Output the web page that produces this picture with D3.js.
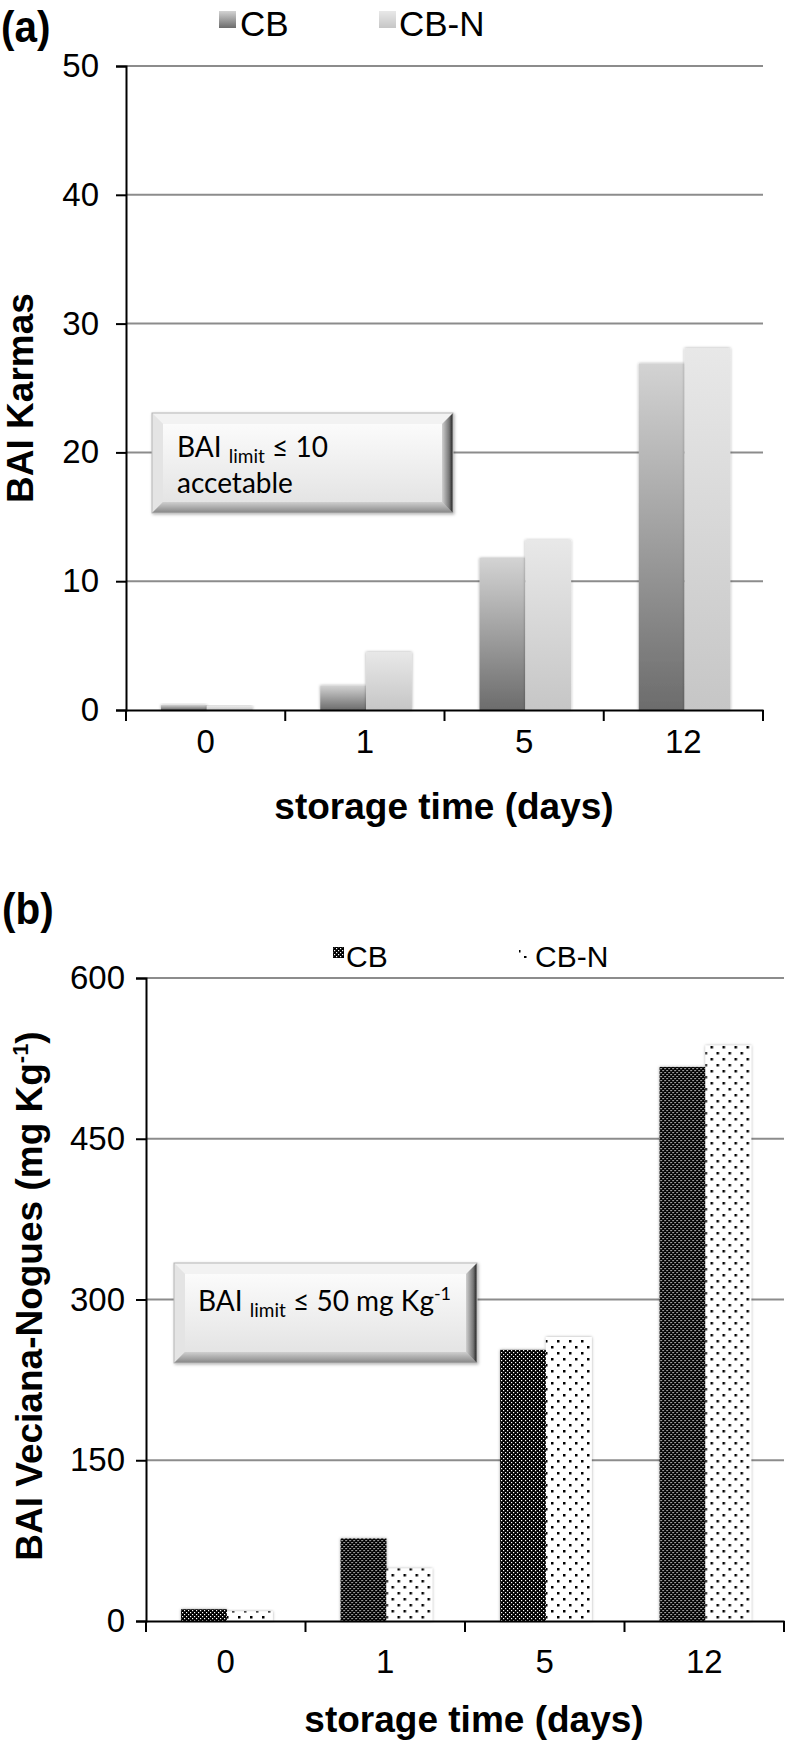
<!DOCTYPE html>
<html>
<head>
<meta charset="utf-8">
<script src="https://cdn.jsdelivr.net/npm/d3@7"></script>
<style>
  html, body { margin: 0; padding: 0; background: #fff; }
  svg { display: block; }
  text { font-family: "Liberation Sans", Arial, sans-serif; fill: #000; }
</style>
</head>
<body>
<div id="chart"></div>
<script>
// ---------- data ----------
const categories = ["0", "1", "5", "12"];
const seriesNames = ["CB", "CB-N"];
const karmasCB  = [0.4, 1.9, 11.8, 26.9];
const karmasCBN = [0.3, 4.5, 13.2, 28.1];
const vecianaCB  = [11, 77, 253, 517];
const vecianaCBN = [9, 49, 265, 537];
const ticksA = [0, 10, 20, 30, 40, 50];
const ticksB = [0, 150, 300, 450, 600];
const xTitle = "storage time (days)";

const W = 790, H = 1746;
const svg = d3.select("#chart").append("svg").attr("width", W).attr("height", H);
const defs = svg.append("defs");

function vGrad(id, top, bottom) {
  const g = defs.append("linearGradient").attr("id", id)
    .attr("x1", 0).attr("y1", 0).attr("x2", 0).attr("y2", 1);
  g.append("stop").attr("offset", "0%").attr("stop-color", top);
  g.append("stop").attr("offset", "100%").attr("stop-color", bottom);
}
vGrad("gradCB", "#d3d3d3", "#6c6c6c");
vGrad("gradCBN", "#e8e8e8", "#c6c6c6");
vGrad("boxFace", "#fbfbfb", "#e4e4e4");
vGrad("boxOuter", "#ededed", "#cfcfcf");
const rg = defs.append("linearGradient").attr("id", "bevelRight")
  .attr("x1", 0).attr("y1", 0).attr("x2", 1).attr("y2", 0);
rg.append("stop").attr("offset", "0%").attr("stop-color", "#d0d0d0");
rg.append("stop").attr("offset", "65%").attr("stop-color", "#777");
rg.append("stop").attr("offset", "100%").attr("stop-color", "#1a1a1a");
vGrad("bevelBottom", "#cfcfcf", "#858585");

const pCB = defs.append("pattern").attr("id", "patCB").attr("patternUnits", "userSpaceOnUse")
  .attr("width", 4).attr("height", 4);
pCB.append("rect").attr("width", 4).attr("height", 4).attr("fill", "#000");
pCB.append("rect").attr("x", 0).attr("y", 0).attr("width", 1.2).attr("height", 1.2).attr("fill", "#fff");
pCB.append("rect").attr("x", 2).attr("y", 2).attr("width", 1.2).attr("height", 1.2).attr("fill", "#fff");

const pCBN = defs.append("pattern").attr("id", "patCBN").attr("patternUnits", "userSpaceOnUse")
  .attr("width", 12).attr("height", 12);
pCBN.append("rect").attr("width", 12).attr("height", 12).attr("fill", "#fff");
pCBN.append("rect").attr("x", 2).attr("y", 2).attr("width", 2.5).attr("height", 2.5).attr("fill", "#000");
pCBN.append("rect").attr("x", 8).attr("y", 8).attr("width", 2.5).attr("height", 2.5).attr("fill", "#000");

const f = defs.append("filter").attr("id", "soft").attr("x", "-20%").attr("y", "-20%").attr("width", "140%").attr("height", "140%");
f.append("feDropShadow").attr("dx", 0).attr("dy", 0).attr("stdDeviation", 1.6)
  .attr("flood-color", "#000").attr("flood-opacity", 0.35);
const f2 = defs.append("filter").attr("id", "boxShadow").attr("x", "-10%").attr("y", "-20%").attr("width", "130%").attr("height", "150%");
f2.append("feDropShadow").attr("dx", 1).attr("dy", 1).attr("stdDeviation", 1.5)
  .attr("flood-color", "#000").attr("flood-opacity", 0.3);

function bevelBox(g, x, y, w, h) {
  const b = 11;
  const bx = g.append("g").attr("filter", "url(#boxShadow)");
  bx.append("rect").attr("x", x).attr("y", y).attr("width", w).attr("height", h).attr("fill", "url(#boxOuter)");
  bx.append("path").attr("d", `M${x},${y}L${x+w},${y}L${x+w-b},${y+b}L${x+b},${y+b}Z`).attr("fill", "#f2f2f2");
  bx.append("path").attr("d", `M${x},${y}L${x+b},${y+b}L${x+b},${y+h-b}L${x},${y+h}Z`).attr("fill", "#e4e4e4");
  bx.append("path").attr("d", `M${x},${y+h}L${x+b},${y+h-b}L${x+w-b},${y+h-b}L${x+w},${y+h}Z`).attr("fill", "url(#bevelBottom)");
  bx.append("path").attr("d", `M${x+w},${y}L${x+w},${y+h}L${x+w-b},${y+h-b}L${x+w-b},${y+b}Z`).attr("fill", "url(#bevelRight)");
  bx.append("rect").attr("x", x + b).attr("y", y + b).attr("width", w - 2*b).attr("height", h - 2*b).attr("fill", "url(#boxFace)");
  bx.append("rect").attr("x", x).attr("y", y).attr("width", w).attr("height", h)
    .attr("fill", "none").attr("stroke", "#b5b5b5").attr("stroke-width", 1);
}

function drawPanel(cfg) {
  const g = svg.append("g");
  const x = d3.scaleBand().domain(categories).range([cfg.left, cfg.right]).padding(0);
  const bw = x.bandwidth();
  const x1 = d3.scaleBand().domain(seriesNames).range([bw * 0.22, bw * 0.795]).padding(0);
  const y = d3.scaleLinear().domain([0, cfg.max]).range([cfg.bottom, cfg.top]);

  g.append("g").selectAll("line").data(cfg.ticks.filter(t => t > 0)).join("line")
    .attr("x1", cfg.left).attr("x2", cfg.right)
    .attr("y1", d => y(d)).attr("y2", d => y(d))
    .attr("stroke", "#8c8c8c").attr("stroke-width", 2);

  const rows = categories.map((c, i) => ({ c, vals: [cfg.s1[i], cfg.s2[i]] }));
  const grp = g.append("g").selectAll("g").data(rows).join("g")
    .attr("transform", d => `translate(${x(d.c)},0)`);
  grp.selectAll("rect").data(d => d.vals.map((v, j) => ({ v, s: seriesNames[j], j }))).join("rect")
    .attr("x", d => x1(d.s)).attr("width", x1.bandwidth())
    .attr("y", d => y(d.v)).attr("height", d => y(0) - y(d.v))
    .attr("fill", d => cfg.fills[d.j])
    .attr("filter", "url(#soft)");

  cfg.box(g);

  const ya = g.append("g").attr("transform", `translate(${cfg.left},0)`)
    .call(d3.axisLeft(y).tickValues(cfg.ticks).tickSize(10).tickPadding(cfg.tickPad).tickFormat(d3.format("d")));
  ya.select(".domain").attr("stroke", "#000").attr("stroke-width", 2);
  ya.selectAll(".tick line").attr("stroke", "#000").attr("stroke-width", 2);
  ya.selectAll(".tick text").attr("font-size", 33).attr("font-family", "Liberation Sans, Arial, sans-serif").attr("fill", "#111");

  const xa = g.append("g").attr("transform", `translate(0,${cfg.bottom})`)
    .call(d3.axisBottom(x).tickSize(0).tickPadding(cfg.xLabPad));
  xa.select(".domain").attr("stroke", "#000").attr("stroke-width", 2);
  xa.selectAll(".tick text").attr("font-size", 33).attr("font-family", "Liberation Sans, Arial, sans-serif").attr("fill", "#111");
  const bounds = categories.map(c => x(c)).concat([x(categories[categories.length - 1]) + bw]);
  g.append("g").selectAll("line").data(bounds).join("line")
    .attr("x1", d => d).attr("x2", d => d)
    .attr("y1", cfg.bottom).attr("y2", cfg.bottom + 11)
    .attr("stroke", "#000").attr("stroke-width", 2);

  g.append("text").attr("x", cfg.xTitleX).attr("y", cfg.xTitleY)
    .attr("text-anchor", "middle").attr("font-weight", "bold").attr("font-size", 37)
    .text(xTitle);

  const yt = g.append("text")
    .attr("transform", `translate(${cfg.yTitleX},${cfg.yTitleY}) rotate(-90)`)
    .attr("text-anchor", "middle").attr("font-weight", "bold").attr("font-size", 37);
  cfg.yTitle(yt);

  g.append("text").attr("transform", `translate(${cfg.letterX},${cfg.letterY}) scale(0.92,1)`)
    .attr("font-weight", "bold").attr("font-size", 44).text(cfg.letter);

  cfg.legend.forEach((L, i) => {
    g.append("rect").attr("x", L.sx).attr("y", L.sy).attr("width", L.ss).attr("height", L.ss)
      .attr("fill", cfg.fills[i]);
    g.append("text").attr("x", L.tx).attr("y", L.ty).attr("font-size", L.fs).text(seriesNames[i]);
  });
}

drawPanel({
  left: 126, right: 763, top: 66, bottom: 710, max: 50, ticks: ticksA,
  s1: karmasCB, s2: karmasCBN, fills: ["url(#gradCB)", "url(#gradCBN)"],
  tickPad: 17, xLabPad: 20, xTitleX: 444, xTitleY: 819,
  yTitleX: 33, yTitleY: 398,
  yTitle: t => t.text("BAI Karmas"),
  letter: "(a)", letterX: 1, letterY: 42,
  legend: [
    { sx: 219, sy: 11, ss: 17, tx: 240, ty: 36, fs: 35 },
    { sx: 379, sy: 11, ss: 17, tx: 399, ty: 36, fs: 35 }
  ],
  box: g => {
    bevelBox(g, 152, 413, 301, 100);
    const t = g.append("text").attr("x", 177).attr("y", 457).style("font-family", "Lato, sans-serif")
      .attr("font-size", 28);
    t.append("tspan").text("BAI ");
    t.append("tspan").attr("font-size", 19).attr("dy", 6).text("limit");
    t.append("tspan").attr("dy", -6).text(" ≤ 10");
    g.append("text").attr("x", 177).attr("y", 493).style("font-family", "Lato, sans-serif")
      .attr("font-size", 28).text("accetable");
  }
});

drawPanel({
  left: 146, right: 784, top: 978, bottom: 1621, max: 600, ticks: ticksB,
  s1: vecianaCB, s2: vecianaCBN, fills: ["url(#patCB)", "url(#patCBN)"],
  tickPad: 11, xLabPad: 29, xTitleX: 474, xTitleY: 1732,
  yTitleX: 42, yTitleY: 1296,
  yTitle: t => {
    t.append("tspan").text("BAI Veciana-Nogues (mg Kg");
    t.append("tspan").attr("font-size", 22).attr("dy", -14).text("-1");
    t.append("tspan").attr("dy", 14).text(")");
  },
  letter: "(b)", letterX: 2, letterY: 924,
  legend: [
    { sx: 333, sy: 947, ss: 11, tx: 346, ty: 967, fs: 30 },
    { sx: 519, sy: 947, ss: 11, tx: 535, ty: 967, fs: 30 }
  ],
  box: g => {
    bevelBox(g, 174, 1263, 303, 100);
    const t = g.append("text").attr("x", 198).attr("y", 1311).style("font-family", "Lato, sans-serif")
      .attr("font-size", 28);
    t.append("tspan").text("BAI ");
    t.append("tspan").attr("font-size", 19).attr("dy", 6).text("limit");
    t.append("tspan").attr("dy", -6).text(" ≤ 50 mg Kg");
    t.append("tspan").attr("font-size", 18).attr("dy", -11).text("-1");
  }
});
</script>
</body>
</html>
